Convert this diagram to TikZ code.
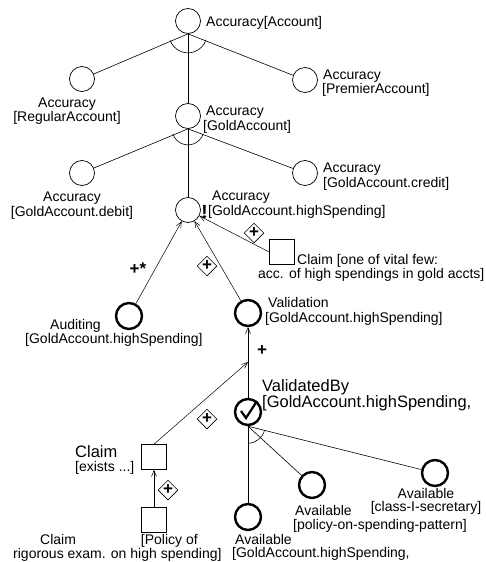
\documentclass[tikz,border=0pt]{standalone}
\usepackage{fontspec}
\setmainfont{Liberation Sans}
\usetikzlibrary{arrows.meta,shapes.geometric,calc}

\tikzset{
  goal/.style={circle,draw,inner sep=0pt,minimum size=25pt,line width=0.7pt},
  agentgoal/.style={goal,minimum size=26pt,line width=2.4pt},
  claimbox/.style={draw,inner sep=0pt,minimum size=25pt,line width=0.7pt},
  lbl/.style={inner sep=0pt,align=left,font=\fontsize{14}{15}\selectfont},
  plusmark/.style={diamond,draw,inner sep=0pt,minimum width=19pt,minimum height=16pt,line width=0.6pt,font=\fontsize{17}{17}\selectfont\bfseries},
  sign/.style={inner sep=0pt,font=\fontsize{17}{17}\selectfont\bfseries},
  contrib/.style={-{Straight Barb[length=6pt,width=5pt]},line width=0.5pt},
  link/.style={line width=0.6pt},
}

\begin{document}
\begin{tikzpicture}[x=1pt,y=1pt]
\useasboundingbox (0,0) rectangle (486,-562);

% 软目标
\foreach \name/\x/\y in {acc/188/21, reg/82/79, prem/305/80, gold/188/116, debit/82/173, credit/305/173, high/188/210} {
    \node[goal] (\name) at (\x,-\y) {};
}
% 操作化目标
\foreach \name/\x/\y in {audit/129/316, valid/248/313, vby/248/412, availA/248/517, availP/312/485, availS/435/473} {
    \node[agentgoal] (\name) at (\x,-\y) {};
}
% 论断
\node[claimbox] (claimA) at (282,-252) {};
\node[claimbox] (claimE) at (154,-457) {};
\node[claimbox] (claimP) at (154,-520) {};

% AND 分解
\foreach \parent/\kids/\sa/\ea/\rad in {acc/{reg,gold,prem}/200/342/19, gold/{debit,high,credit}/199/342/16, vby/{availA,availP,availS}/270/346/17} {
    \foreach \kid in \kids {
        \draw[link] (\parent.south) -- (\kid);
    }
    \draw[link] ([shift={(\sa:\rad)}]\parent.south) arc[start angle=\sa, end angle=\ea, radius=\rad];
}

% 贡献
\coordinate (vjoin) at (248,-362);
\draw[contrib] (audit) -- (high);
\draw[contrib] (valid) -- (high);
\draw[contrib] (claimA.west) -- (high);
\draw[contrib] (vby) -- (valid);
\draw[contrib] (claimE.north) -- (vjoin);
\draw[contrib] (claimP) -- (claimE);

% 标记
\node[plusmark] (pmA) at (254,-233) {+};
\node[plusmark] (pmV) at (207,-266) {+};
\node[plusmark] (pmE) at (207,-419) {+};
\node[plusmark] (pmP) at (168,-490) {+};
\node[sign] (pA) at (138,-269) {+*};
\node[sign] (pV) at (262,-351) {+};
\node[sign,font=\fontsize{19}{19}\selectfont\bfseries] (crit) at (204.5,-212) {!};
\draw[line width=2.2pt] ($(vby)+(-7,1)$) -- ($(vby)+(-2,-6)$) -- ($(vby)+(9,11)$);

% 标签
\node[lbl,anchor=west] (accL) at (206,-23) {Accuracy[Account]};
\node[lbl,align=center,font=\fontsize{14}{12}\selectfont] (regL) at (67,-111) {Accuracy\\{}[RegularAccount]};
\node[lbl,anchor=west,font=\fontsize{14}{14}\selectfont] (premL) at (322,-83.5) {\hspace*{1pt}Accuracy\\{}[PremierAccount]};
\node[lbl,anchor=west] (goldL) at (203,-119.5) {\hspace*{3pt}Accuracy\\{}[GoldAccount]};
\node[lbl,align=center] (debitL) at (72,-205.5) {Accuracy\\{}[GoldAccount.debit]};
\node[lbl,anchor=west] (creditL) at (323,-176.5) {Accuracy\\{}[GoldAccount.credit]};
\node[lbl,anchor=west] (highL) at (208,-205) {\hspace*{4pt}Accuracy\\{}[GoldAccount.highSpending]};
\node[lbl,anchor=west,font=\fontsize{14}{12}\selectfont] (claimAL) at (258,-268) {\hspace*{39pt}Claim [one of vital few:\\acc. of high spendings in gold accts]};
\node[lbl,anchor=west,font=\fontsize{14}{13}\selectfont] (auditL) at (25,-332.5) {\hspace*{25pt}Auditing\\{}[GoldAccount.highSpending]};
\node[lbl,anchor=west] (validL) at (265,-311.5) {\hspace*{3pt}Validation\\{}[GoldAccount.highSpending]};
\node[lbl,anchor=west,font=\fontsize{16.5}{12.5}\selectfont] (vbyL) at (262,-395.5) {ValidatedBy\\{}[GoldAccount.highSpending,};
\node[lbl,anchor=west,font=\fontsize{14}{13.5}\selectfont] (claimEL) at (75,-460) {{\fontsize{16.5}{13.5}\selectfont Claim}\\{}[exists ...]};
\node[lbl,anchor=west,font=\fontsize{14}{12}\selectfont] (claimPL) at (13,-548) {\hspace*{27pt}Claim\hspace*{65pt}[Policy of\\rigorous exam. on high spending]};
\node[lbl,anchor=west,font=\fontsize{14}{13}\selectfont] (availAL) at (232,-547) {\hspace*{3pt}Available\\{}[GoldAccount.highSpending,};
\node[lbl,anchor=west,font=\fontsize{14}{14}\selectfont] (availPL) at (293,-519) {\hspace*{2pt}Available\\{}[policy-on-spending-pattern]};
\node[lbl,align=center,font=\fontsize{14}{13}\selectfont] (availSL) at (426,-501) {Available\\{}[class-I-secretary]};

\end{tikzpicture}
\end{document}
